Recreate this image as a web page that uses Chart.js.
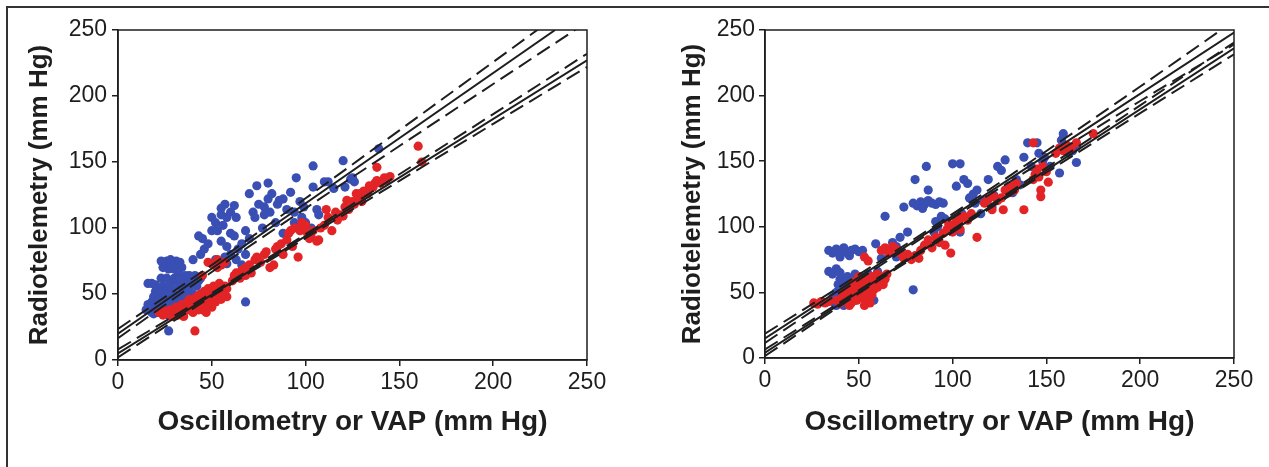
<!DOCTYPE html>
<html>
<head>
<meta charset="utf-8">
<script src="https://cdn.jsdelivr.net/npm/chart.js@4.4.1/dist/chart.umd.min.js"></script>
<style>
  html, body { margin: 0; padding: 0; background: #fff; }
  body { width: 1269px; height: 467px; position: relative; overflow: hidden; }
  #frame { position: absolute; left: 6px; top: 6px; right: 0; bottom: 0;
           border-top: 2px solid #333; border-left: 2px solid #333; }
  canvas { position: absolute; top: 0; }
</style>
</head>
<body>
<div id="frame"></div>
<canvas id="leftChart" width="640" height="467" style="left:0"></canvas>
<canvas id="rightChart" width="629" height="467" style="left:640px"></canvas>
<script>
// axis ticks
const tickValues = [0, 50, 100, 150, 200, 250];

// left panel: [x, y] pairs
const leftBlue = [
  [16,58],[18,58],[20,57],
  [15,38],[16,42],[17,40],[18,44],[18,36],[19,48],[19,35],[20,38],[20,52],[21,42],[21,36],[22,46],[22,52],
  [23,36],[23,62],[24,40],[24,56],[25,44],[25,35],[26,48],[26,52],[26,62],[27,38],[27,34],[28,42],[28,58],
  [29,46],[29,54],[30,50],[30,62],[31,40],[31,60],[32,44],[32,64],[33,48],[33,56],[34,52],[34,38],[35,62],
  [36,46],[36,56],[37,58],[38,54],[38,64],[39,62],[40,50],[41,64],[42,56],[43,60],[44,62],[25,50],[27,46],
  [29,40],[35,42],[37,50],[40,58],[33,62],
  [23,75],[25,73],[26,75],[28,76],[29,73],[31,75],[33,74],[24,70],[27,69],[30,69],[32,67],[34,70],[36,64],
  [27,22],[68,44],
  [40,76],[43,94],[45,92],[44,80],[46,84],[48,88],[50,98],[50,108],[52,104],[53,98],[55,110],[56,102],
  [55,115],[57,118],[58,108],[60,112],[62,117],[63,108],[55,90],[57,78],[58,86],[60,80],[60,96],[62,94],
  [63,76],[64,84],[66,88],[66,72],[68,80],[70,92],[55,74],[58,73],[52,76],
  [68,98],[70,126],[72,112],[73,108],[74,132],[75,118],[77,100],[78,110],[78,116],[80,134],[80,122],
  [81,112],[82,126],[84,104],[85,118],[86,121],[88,122],[90,114],[92,127],[94,112],[94,104],[95,138],
  [97,120],[98,108],[99,116],[100,104],[102,96],[103,100],[104,131],[104,147],[106,114],[107,110],
  [110,135],[112,135],[115,130],[120,151],[121,131],[124,137],[125,138],[126,135],[139,160],[96,101],[88,96]
];
const leftRed = [
  [41,22],
  [22,36],[24,34],[25,37],[27,35],[28,38],[30,36],[31,40],[32,34],[33,38],[34,42],[35,36],[36,40],[37,44],
  [38,38],[39,42],[40,46],[40,36],[41,40],[42,44],[42,48],[43,38],[44,42],[44,50],[45,46],[46,40],[46,52],
  [47,44],[48,48],[48,54],[49,42],[50,46],[50,52],[51,56],[52,44],[52,50],[53,48],[54,54],[55,46],[55,52],
  [56,50],[57,56],[58,48],[58,54],[45,38],[38,46],[35,33],[29,33],[54,58],[50,40],[47,36],
  [45,64],[48,74],[51,72],[53,70],
  [50,73],[53,76],[55,72],[57,74],[61,60],[62,64],[63,66],[65,62],[66,68],[68,64],[68,70],[70,72],[71,66],
  [73,76],[74,78],[76,74],[78,80],[79,82],[81,70],[83,72],[84,84],[85,86],[87,88],[88,80],[90,91],[91,96],
  [92,98],[93,86],[94,100],[96,78],[97,98],[98,101],[100,102],[101,96],[102,92],[103,93],[104,98],[106,90],
  [107,91],[108,100],[111,114],[112,108],[114,98],[116,112],[117,106],[119,110],[120,109],[121,116],
  [122,121],[123,114],[125,120],[126,118],[127,126],[128,122],[129,126],[130,120],[131,128],[133,126],
  [134,132],[136,131],[137,134],[138,136],[138,146],[140,134],[142,138],[143,136],[145,139],[160,162],
  [162,150],[98,104],[110,102]
];
const leftBlueFit = [[0,20],[233,250]];
const leftBlueUpper = [[0,23.5],[50,72],[100,122.5],[150,174],[200,225.7],[250,277.5]];
const leftBlueLower = [[0,16.5],[50,66.7],[100,114.9],[150,162.1],[200,209.1],[250,256]];
const leftRedFit = [[0,5],[250,227]];
const leftRedUpper = [[0,8],[50,50.7],[100,95.3],[150,140.7],[200,186.3],[250,232]];
const leftRedLower = [[0,2],[50,48.1],[100,92.3],[150,135.7],[200,178.9],[250,222]];

// right panel
const rightBlue = [
  [34,82],[36,80],[38,83],[40,81],[42,84],[44,80],[46,82],[48,83],[50,81],[52,82],[45,78],[40,77],
  [34,66],[36,64],[38,68],[40,65],
  [36,46],[37,42],[38,50],[39,56],[40,44],[40,60],[41,48],[42,52],[43,58],[44,42],[44,62],[45,46],[46,50],
  [46,56],[47,60],[48,44],[48,64],[49,52],[50,48],[50,58],[51,62],[52,54],[53,46],[54,60],[55,64],[56,52],
  [57,58],[58,44],[59,62],[60,66],[42,40],[38,40],
  [59,87],[64,108],[62,76],[66,80],[70,77],[70,85],[72,92],[74,115],[68,88],[76,96],[79,52],
  [79,118],[81,116],[83,119],[85,117],[87,120],[89,118],[91,117],[93,119],[95,118],[84,114],
  [80,136],[86,146],[87,128],[90,96],[91,104],[92,100],[94,108],[96,106],[98,98],[100,148],[104,148],
  [102,131],[103,104],[104,96],[105,110],[106,136],[108,133],[109,122],[111,125],[112,118],[113,128],
  [115,110],[116,120],[119,136],[121,115],[122,124],[124,146],[126,143],[128,151],[130,131],[132,126],
  [134,136],[136,132],[138,153],[140,164],[142,146],[145,164],[145,141],[146,156],[148,150],[149,153],
  [152,146],[157,141],[158,166],[159,171],[162,156],[166,161],[166,149],[164,158]
];
const rightRed = [
  [26,42],[28,41],[30,43],[32,42],[34,43],
  [38,44],[40,42],[41,46],[42,50],[43,44],[44,48],[45,52],[46,42],[47,46],[48,50],[48,56],[49,44],[50,48],
  [50,54],[51,58],[52,46],[52,52],[53,56],[54,50],[54,60],[55,44],[55,54],[56,58],[57,48],[57,62],[58,52],
  [58,56],[59,60],[60,54],[60,64],[61,58],[62,62],[63,56],[64,60],[65,64],[56,42],[53,40],[45,40],[50,62],
  [47,58],[53,77],[55,74],
  [62,82],[64,84],[66,80],[68,85],[70,83],[72,80],[74,76],[76,79],[78,75],[80,78],[82,76],[83,82],[85,86],
  [87,90],[89,84],[91,92],[93,88],[95,95],[96,86],[99,80],[97,98],[98,102],[100,96],[101,100],[102,104],
  [104,98],[104,106],[106,108],[108,105],[110,110],[113,92],[117,118],[119,121],[121,113],[122,123],
  [124,120],[126,122],[127,113],[128,128],[130,126],[131,131],[133,128],[134,133],[138,113],[143,136],
  [144,140],[145,144],[146,138],[147,123],[147,128],[148,146],[150,142],[151,134],[143,164],[155,156],
  [157,160],[159,158],[161,162],[163,160],[166,164],[175,171]
];
const rightBlueFit = [[0,15],[250,248]];
const rightBlueUpper = [[0,18.5],[50,63.6],[100,109.8],[150,157.8],[200,206.9],[250,257]];
const rightBlueLower = [[0,11.5],[50,59.6],[100,106.6],[150,151.8],[200,195.9],[250,239]];
const rightRedFit = [[0,4],[250,236]];
const rightRedUpper = [[0,6.5],[50,51.6],[100,97.8],[150,145],[200,192.6],[250,240.5]];
const rightRedLower = [[0,1.5],[50,49.2],[100,95.8],[150,141.4],[200,186.6],[250,231.5]];

const BLUE = '#3a4fb3';
const RED = '#e32427';
const INK = '#1e1e1e';
const FONT = "'Liberation Sans', Arial, Helvetica, sans-serif";

function toXY(pairs) {
  return pairs.map(p => ({ x: p[0], y: p[1] }));
}

function lineSet(pairs, dashed) {
  return {
    data: toXY(pairs),
    showLine: true,
    pointRadius: 0,
    borderColor: INK,
    borderWidth: 2,
    borderDash: dashed ? [15, 7] : [],
    cubicInterpolationMode: 'monotone'
  };
}

function dotSet(pairs, color) {
  return {
    data: toXY(pairs),
    pointRadius: 4.6,
    pointBackgroundColor: color,
    pointBorderWidth: 0,
    showLine: false
  };
}

// draws the top and right edges of the plot box
const boxPlugin = {
  id: 'box',
  afterDraw(chart) {
    const a = chart.chartArea;
    const ctx = chart.ctx;
    ctx.save();
    ctx.strokeStyle = INK;
    ctx.lineWidth = 1.5;
    ctx.strokeRect(a.left, a.top, a.right - a.left, a.bottom - a.top);
    ctx.restore();
  }
};

function makeChart(id, sets, pad, yWidth, xHeight, yPad) {
  const tickOpts = {
    font: { family: FONT, size: 23 },
    color: INK
  };
  return new Chart(document.getElementById(id), {
    type: 'scatter',
    data: { datasets: sets },
    options: {
      responsive: false,
      animation: false,
      layout: { padding: pad },
      plugins: { legend: { display: false }, tooltip: { enabled: false } },
      scales: {
        x: {
          type: 'linear', min: 0, max: 250,
          afterBuildTicks: s => { s.ticks = tickValues.map(v => ({ value: v })); },
          afterFit: s => { s.height = xHeight; },
          ticks: Object.assign({ padding: 3, maxRotation: 0 }, tickOpts),
          grid: { drawOnChartArea: false, tickLength: 6, color: INK, lineWidth: 1.5 },
          border: { color: INK, width: 1.5 },
          title: {
            display: true, text: 'Oscillometry or VAP (mm Hg)', color: INK,
            font: { family: FONT, size: 28, weight: 'bold' }, padding: 0
          }
        },
        y: {
          type: 'linear', min: 0, max: 250,
          afterBuildTicks: s => { s.ticks = tickValues.map(v => ({ value: v })); },
          afterFit: s => { s.width = yWidth; },
          ticks: Object.assign({ padding: yPad }, tickOpts),
          grid: { drawOnChartArea: false, tickLength: 6, color: INK, lineWidth: 1.5 },
          border: { color: INK, width: 1.5 },
          title: {
            display: true, text: 'Radiotelemetry (mm Hg)', color: INK,
            font: { family: FONT, size: 26, weight: 'bold' }, padding: 0
          }
        }
      }
    },
    plugins: [boxPlugin]
  });
}

// lines first so they sit on top of the dots
makeChart('leftChart', [
  lineSet(leftBlueFit, false), lineSet(leftBlueUpper, true), lineSet(leftBlueLower, true),
  lineSet(leftRedFit, false), lineSet(leftRedUpper, true), lineSet(leftRedLower, true),
  dotSet(leftRed, RED), dotSet(leftBlue, BLUE)
], { left: 24, top: 30, right: 53, bottom: 28 }, 94, 79, 5);

makeChart('rightChart', [
  lineSet(rightBlueFit, false), lineSet(rightBlueUpper, true), lineSet(rightBlueLower, true),
  lineSet(rightRedFit, false), lineSet(rightRedUpper, true), lineSet(rightRedLower, true),
  dotSet(rightRed, RED), dotSet(rightBlue, BLUE)
], { left: 37, top: 30, right: 35, bottom: 28 }, 88, 81, 4);
</script>
</body>
</html>
